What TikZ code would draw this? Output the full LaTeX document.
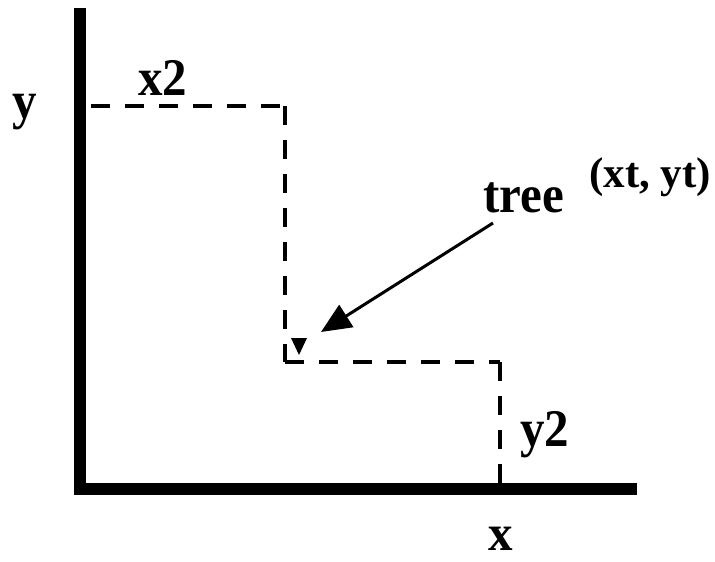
\documentclass[tikz,border=0pt]{standalone}
\usepackage{fontspec}
\setmainfont{Liberation Serif}
\usetikzlibrary{arrows.meta}
\begin{document}
\begin{tikzpicture}[x=1pt,y=-1pt,
  axis/.style={line width=12pt,line join=miter},
  guide/.style={line width=4.5pt,dash pattern=on 19pt off 15pt},
  lbl/.style={inner sep=0pt,anchor=base west,font=\fontsize{49}{49}\bfseries\selectfont},
  sublbl/.style={inner sep=0pt,anchor=base west,font=\fontsize{43}{43}\bfseries\selectfont},
  pointer/.style={line width=3pt,-{Triangle[length=30pt,width=26pt]}}]
\useasboundingbox (0,0) rectangle (715,562);
% axes
\coordinate (ytop) at (80,8);
\coordinate (origin) at (80,489);
\coordinate (xend) at (637,489);
\draw[axis] (ytop) -- (origin) -- (xend);
% staircase
\coordinate (a) at (86,106);
\coordinate (b) at (285,106);
\coordinate (c) at (285,362);
\coordinate (d) at (500,362);
\coordinate (e) at (500,489);
\draw[guide,dash phase=-5pt] (a) -- (b);
\draw[guide] (b) -- (c);
\draw[guide] (c) -- (d);
\draw[guide] (d) -- (e);
% tree marker
\fill (291,338) -- (307,338) -- (299,355) -- cycle;
\coordinate (treept) at (321,332);
% labels
\node[lbl] (ylbl) at (12,118) {\scalebox{1}[1.08]{y}};
\node[lbl] (x2lbl) at (138,95) {\scalebox{1}[1.08]{x2}};
\node[lbl] (treelbl) at (483,212) {\scalebox{1}[1.08]{tree}};
\node[sublbl] (xtyt) at (589,187) {(xt, yt)};
\node[lbl] (y2lbl) at (520,446) {\scalebox{1}[1.08]{y2}};
\node[lbl] (xlbl) at (488,550) {\scalebox{1}[1.04]{x}};
\coordinate (arrstart) at (493,223);
\draw[pointer] (arrstart) -- (treept);
\end{tikzpicture}
\end{document}
